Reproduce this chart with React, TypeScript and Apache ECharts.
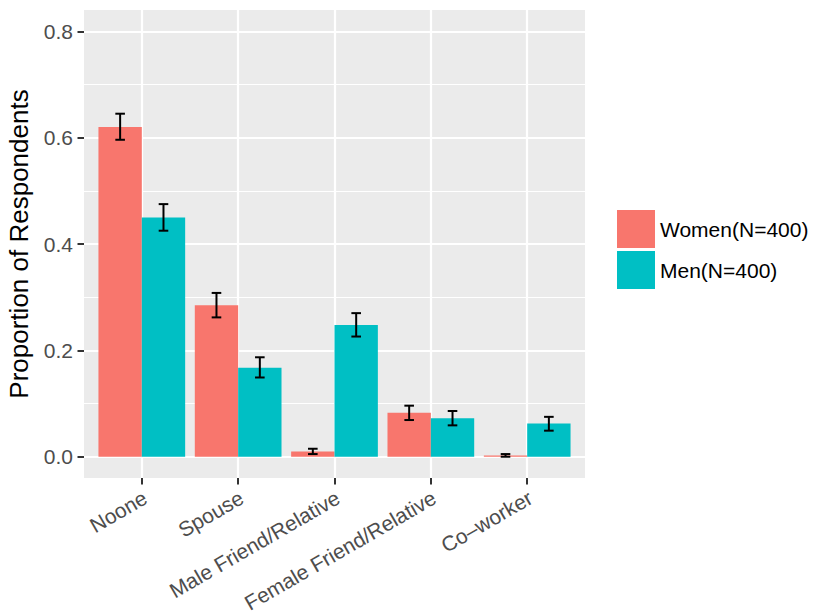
import React, { useEffect, useRef } from "react";
import * as echarts from "echarts";

const categories = ["Noone", "Spouse", "Male Friend/Relative", "Female Friend/Relative", "Co–worker"];
const seriesNames = ["Women(N=400)", "Men(N=400)"];
const women = [0.62, 0.285, 0.01, 0.0825, 0.0025];
const men = [0.45, 0.1675, 0.2475, 0.0725, 0.0625];
const womenLow = [0.596, 0.262, 0.005, 0.069, 0.0];
const womenHigh = [0.645, 0.308, 0.015, 0.096, 0.005];
const menLow = [0.425, 0.149, 0.226, 0.059, 0.049];
const menHigh = [0.475, 0.187, 0.27, 0.086, 0.075];
const yTicks = [0, 0.2, 0.4, 0.6, 0.8];
const yMinorTicks = [0.1, 0.3, 0.5, 0.7];

const FONT = "'Liberation Sans', Arial, Helvetica, sans-serif";
const DODGE = 0.225;

export default function App() {
  const ref = useRef<HTMLDivElement>(null);
  useEffect(() => {
    if (!ref.current) return;
    const chart = echarts.init(ref.current, null, { renderer: "svg" });
    const xPos = categories.map((_, i) => i + 1);

    const errRender = (params: any, api: any) => {
      const x = api.value(0);
      const lo = api.value(1);
      const hi = api.value(2);
      const top = api.coord([x, hi]);
      const bot = api.coord([x, lo]);
      const hw = 4.8;
      const style = { stroke: "#000", lineWidth: 2 };
      return {
        type: "group",
        children: [
          { type: "line", shape: { x1: top[0], y1: top[1], x2: bot[0], y2: bot[1] }, style },
          { type: "line", shape: { x1: top[0] - hw, y1: top[1], x2: top[0] + hw, y2: top[1] }, style },
          { type: "line", shape: { x1: bot[0] - hw, y1: bot[1], x2: bot[0] + hw, y2: bot[1] }, style },
        ],
      };
    };

    chart.setOption({
      animation: false,
      backgroundColor: "#fff",
      textStyle: { fontFamily: FONT },
      grid: {
        left: 84,
        right: 228,
        top: 10,
        bottom: 135,
        containLabel: false,
        outerBoundsMode: "none",
        show: true,
        backgroundColor: "#EBEBEB",
        borderWidth: 0,
      },
      legend: {
        data: seriesNames,
        orient: "vertical",
        left: 617,
        top: 210,
        padding: 0,
        itemWidth: 38,
        itemHeight: 38,
        itemGap: 3,
        icon: "rect",
        textStyle: { fontSize: 21, color: "#000", fontFamily: FONT },
      },
      xAxis: {
        type: "value",
        min: 0.4,
        max: 5.6,
        position: "bottom",
        axisLine: { show: false, onZero: false },
        axisTick: { show: true, length: 6.5, lineStyle: { color: "#333", width: 2 }, customValues: xPos },
        axisLabel: {
          customValues: xPos.map((v) => v + 0.035),
          formatter: (v: number) => categories[Math.round(v) - 1] ?? "",
          rotate: 30,
          fontSize: 21,
          color: "#4D4D4D",
          margin: 18,
          fontFamily: FONT,
        },
        splitLine: { show: true, lineStyle: { color: "#fff", width: 2.2 } },
      },
      yAxis: [
        {
          type: "value",
          min: -0.04,
          max: 0.84,
          position: "left",
          axisLine: { show: false, onZero: false },
          axisTick: { show: true, length: 6.5, lineStyle: { color: "#333", width: 2 }, customValues: yTicks },
          axisLabel: {
            customValues: yTicks,
            formatter: (v: number) => v.toFixed(1),
            fontSize: 21,
            color: "#4D4D4D",
            margin: 11,
            fontFamily: FONT,
          },
          splitLine: { show: true, lineStyle: { color: "#fff", width: 2.2 } },
          name: "Proportion of Respondents",
          nameLocation: "middle",
          nameGap: 52,
          nameTextStyle: { fontSize: 26, color: "#000", fontFamily: FONT },
        },
        {
          type: "value",
          min: -0.04,
          max: 0.84,
          position: "left",
          axisLine: { show: false, onZero: false },
          axisTick: { show: false, customValues: yMinorTicks },
          axisLabel: { show: false, customValues: yMinorTicks },
          splitLine: { show: true, lineStyle: { color: "#fff", width: 1.1 } },
        },
      ],
      series: [
        {
          name: seriesNames[0],
          type: "bar",
          data: xPos.map((x, i) => [x, women[i]]),
          barWidth: "45%",
          barGap: "0%",
          itemStyle: { color: "#F8766D" },
        },
        {
          name: seriesNames[1],
          type: "bar",
          data: xPos.map((x, i) => [x, men[i]]),
          barWidth: "45%",
          barGap: "0%",
          itemStyle: { color: "#00BFC4" },
        },
        {
          type: "custom",
          renderItem: errRender,
          encode: { x: 0, y: [1, 2] },
          data: xPos.map((x, i) => [x - DODGE, womenLow[i], womenHigh[i]]),
          z: 10,
        },
        {
          type: "custom",
          renderItem: errRender,
          encode: { x: 0, y: [1, 2] },
          data: xPos.map((x, i) => [x + DODGE, menLow[i], menHigh[i]]),
          z: 10,
        },
      ],
    });
    return () => chart.dispose();
  }, []);
  return (
    <div
      ref={ref}
      style={{ position: "fixed", left: 0, top: 0, width: 813, height: 613 }}
    />
  );
}
